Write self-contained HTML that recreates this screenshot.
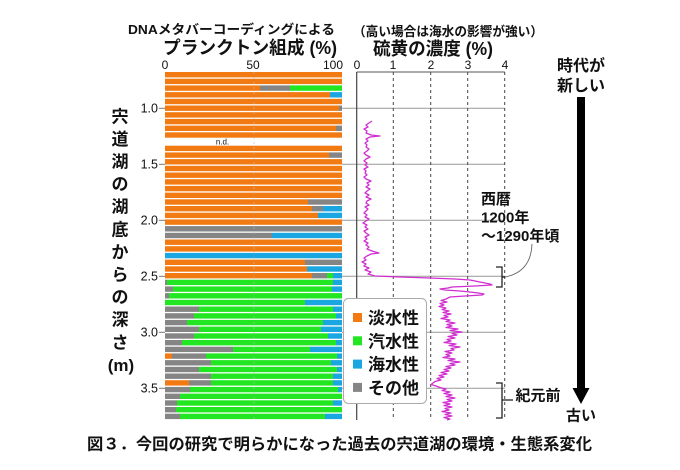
<!DOCTYPE html>
<html><head><meta charset="utf-8">
<style>
html,body{margin:0;padding:0;background:#fff}
svg{display:block}
text{font-family:"Liberation Sans","Noto Sans CJK JP",sans-serif;fill:#111}
</style></head>
<body>
<svg width="680" height="470" viewBox="0 0 680 470" xmlns="http://www.w3.org/2000/svg">
<rect width="680" height="470" fill="#fff"/>

<!-- Titles -->
<text x="128" y="34" font-size="13" font-weight="bold" textLength="207" lengthAdjust="spacingAndGlyphs">DNAメタバーコーディングによる</text>
<text x="163" y="54" font-size="18" font-weight="bold" textLength="174" lengthAdjust="spacingAndGlyphs">プランクトン組成 (%)</text>
<text x="353" y="36" font-size="13" font-weight="bold" textLength="190" lengthAdjust="spacingAndGlyphs">（高い場合は海水の影響が強い）</text>
<text x="373" y="55" font-size="18" font-weight="bold" textLength="120" lengthAdjust="spacingAndGlyphs">硫黄の濃度 (%)</text>

<!-- top axis labels -->
<g font-size="12" text-anchor="middle" fill="#222">
<text x="165" y="69">0</text>
<text x="253" y="69">50</text>
<text x="333" y="69">100</text>
<text x="357" y="69">0</text>
<text x="393" y="69">1</text>
<text x="431" y="69">2</text>
<text x="468" y="69">3</text>
<text x="505" y="69">4</text>
</g>

<!-- depth tick labels -->
<g font-size="12.5" text-anchor="end" fill="#333">
<text x="158" y="112.5">1.0</text>
<text x="158" y="168.5">1.5</text>
<text x="158" y="224.5">2.0</text>
<text x="158" y="280.5">2.5</text>
<text x="158" y="336.5">3.0</text>
<text x="158" y="392.5">3.5</text>
</g>
<g stroke="#777" stroke-width="1">
<line x1="159" y1="108.3" x2="165" y2="108.3"/>
<line x1="159" y1="164.3" x2="165" y2="164.3"/>
<line x1="159" y1="220.3" x2="165" y2="220.3"/>
<line x1="159" y1="276.3" x2="165" y2="276.3"/>
<line x1="159" y1="332.3" x2="165" y2="332.3"/>
<line x1="159" y1="388.3" x2="165" y2="388.3"/>
</g>

<!-- vertical y label -->
<g font-size="17" font-weight="bold" text-anchor="middle">
<text x="120" y="122.3">宍</text>
<text x="120" y="144.9">道</text>
<text x="120" y="167.5">湖</text>
<text x="120" y="190.1">の</text>
<text x="120" y="212.7">湖</text>
<text x="120" y="235.3">底</text>
<text x="120" y="257.9">か</text>
<text x="120" y="280.5">ら</text>
<text x="120" y="303.1">の</text>
<text x="120" y="325.7">深</text>
<text x="120" y="348.3">さ</text>
<text x="121" y="370.9">(m)</text>
</g>

<!-- Bars -->
<g>
<rect x="165" y="72" width="177" height="5.4" fill="#f27a12"/>
<rect x="165" y="78.7" width="177" height="5.4" fill="#f27a12"/>
<rect x="165" y="85.4" width="95" height="5.4" fill="#f27a12"/><rect x="260" y="85.4" width="30" height="5.4" fill="#858585"/><rect x="290" y="85.4" width="52" height="5.4" fill="#22e622"/>
<rect x="165" y="92.1" width="165" height="5.4" fill="#f27a12"/><rect x="330" y="92.1" width="12" height="5.4" fill="#1aa6e0"/>
<rect x="165" y="98.8" width="177" height="5.4" fill="#f27a12"/>
<rect x="165" y="105.5" width="174" height="5.4" fill="#f27a12"/><rect x="339" y="105.5" width="3" height="5.4" fill="#858585"/>
<rect x="165" y="112.2" width="177" height="5.4" fill="#f27a12"/>
<rect x="165" y="118.9" width="177" height="5.4" fill="#f27a12"/>
<rect x="165" y="125.6" width="171" height="5.4" fill="#f27a12"/><rect x="336" y="125.6" width="6" height="5.4" fill="#858585"/>
<rect x="165" y="132.3" width="177" height="5.4" fill="#f27a12"/>
<rect x="165" y="145.7" width="177" height="5.4" fill="#f27a12"/>
<rect x="165" y="152.4" width="164" height="5.4" fill="#f27a12"/><rect x="329" y="152.4" width="13" height="5.4" fill="#858585"/>
<rect x="165" y="159.1" width="177" height="5.4" fill="#f27a12"/>
<rect x="165" y="165.8" width="177" height="5.4" fill="#f27a12"/>
<rect x="165" y="172.5" width="177" height="5.4" fill="#f27a12"/>
<rect x="165" y="179.2" width="177" height="5.4" fill="#f27a12"/>
<rect x="165" y="185.9" width="177" height="5.4" fill="#f27a12"/>
<rect x="165" y="192.6" width="177" height="5.4" fill="#f27a12"/>
<rect x="165" y="199.3" width="143" height="5.4" fill="#f27a12"/><rect x="308" y="199.3" width="34" height="5.4" fill="#858585"/>
<rect x="165" y="206" width="147" height="5.4" fill="#f27a12"/><rect x="312" y="206" width="11" height="5.4" fill="#858585"/><rect x="323" y="206" width="19" height="5.4" fill="#1aa6e0"/>
<rect x="165" y="212.7" width="153" height="5.4" fill="#f27a12"/><rect x="318" y="212.7" width="24" height="5.4" fill="#1aa6e0"/>
<rect x="165" y="219.4" width="177" height="5.4" fill="#f27a12"/>
<rect x="165" y="226.1" width="177" height="5.4" fill="#858585"/>
<rect x="165" y="232.8" width="107" height="5.4" fill="#858585"/><rect x="272" y="232.8" width="70" height="5.4" fill="#1aa6e0"/>
<rect x="165" y="239.5" width="177" height="5.4" fill="#f27a12"/>
<rect x="165" y="246.2" width="177" height="5.4" fill="#f27a12"/>
<rect x="165" y="252.9" width="177" height="5.4" fill="#1aa6e0"/>
<rect x="165" y="259.6" width="140" height="5.4" fill="#f27a12"/><rect x="305" y="259.6" width="37" height="5.4" fill="#858585"/>
<rect x="165" y="266.3" width="142" height="5.4" fill="#f27a12"/><rect x="307" y="266.3" width="35" height="5.4" fill="#1aa6e0"/>
<rect x="165" y="273" width="147" height="5.4" fill="#f27a12"/><rect x="312" y="273" width="15" height="5.4" fill="#858585"/><rect x="327" y="273" width="6" height="5.4" fill="#22e622"/><rect x="333" y="273" width="9" height="5.4" fill="#1aa6e0"/>
<rect x="165" y="279.7" width="2" height="5.4" fill="#858585"/><rect x="167" y="279.7" width="166" height="5.4" fill="#22e622"/><rect x="333" y="279.7" width="9" height="5.4" fill="#1aa6e0"/>
<rect x="165" y="286.4" width="8" height="5.4" fill="#858585"/><rect x="173" y="286.4" width="159" height="5.4" fill="#22e622"/><rect x="332" y="286.4" width="10" height="5.4" fill="#1aa6e0"/>
<rect x="165" y="293.1" width="4" height="5.4" fill="#858585"/><rect x="169" y="293.1" width="173" height="5.4" fill="#22e622"/>
<rect x="165" y="299.8" width="140" height="5.4" fill="#22e622"/><rect x="305" y="299.8" width="37" height="5.4" fill="#1aa6e0"/>
<rect x="165" y="306.5" width="34" height="5.4" fill="#858585"/><rect x="199" y="306.5" width="134" height="5.4" fill="#22e622"/><rect x="333" y="306.5" width="9" height="5.4" fill="#1aa6e0"/>
<rect x="165" y="313.2" width="29" height="5.4" fill="#858585"/><rect x="194" y="313.2" width="142" height="5.4" fill="#22e622"/><rect x="336" y="313.2" width="6" height="5.4" fill="#1aa6e0"/>
<rect x="165" y="319.9" width="22" height="5.4" fill="#858585"/><rect x="187" y="319.9" width="136" height="5.4" fill="#22e622"/><rect x="323" y="319.9" width="19" height="5.4" fill="#1aa6e0"/>
<rect x="165" y="326.6" width="34" height="5.4" fill="#858585"/><rect x="199" y="326.6" width="122" height="5.4" fill="#22e622"/><rect x="321" y="326.6" width="21" height="5.4" fill="#1aa6e0"/>
<rect x="165" y="333.3" width="29" height="5.4" fill="#858585"/><rect x="194" y="333.3" width="134" height="5.4" fill="#22e622"/><rect x="328" y="333.3" width="14" height="5.4" fill="#1aa6e0"/>
<rect x="165" y="340" width="17" height="5.4" fill="#858585"/><rect x="182" y="340" width="154" height="5.4" fill="#22e622"/><rect x="336" y="340" width="6" height="5.4" fill="#1aa6e0"/>
<rect x="165" y="346.7" width="68" height="5.4" fill="#858585"/><rect x="233" y="346.7" width="77" height="5.4" fill="#22e622"/><rect x="310" y="346.7" width="32" height="5.4" fill="#1aa6e0"/>
<rect x="165" y="353.4" width="7" height="5.4" fill="#f27a12"/><rect x="172" y="353.4" width="34" height="5.4" fill="#858585"/><rect x="206" y="353.4" width="131" height="5.4" fill="#22e622"/><rect x="337" y="353.4" width="5" height="5.4" fill="#1aa6e0"/>
<rect x="165" y="360.1" width="46" height="5.4" fill="#858585"/><rect x="211" y="360.1" width="120" height="5.4" fill="#22e622"/><rect x="331" y="360.1" width="11" height="5.4" fill="#1aa6e0"/>
<rect x="165" y="366.8" width="34" height="5.4" fill="#858585"/><rect x="199" y="366.8" width="138" height="5.4" fill="#22e622"/><rect x="337" y="366.8" width="5" height="5.4" fill="#1aa6e0"/>
<rect x="165" y="373.5" width="46" height="5.4" fill="#858585"/><rect x="211" y="373.5" width="122" height="5.4" fill="#22e622"/><rect x="333" y="373.5" width="9" height="5.4" fill="#1aa6e0"/>
<rect x="165" y="380.2" width="24" height="5.4" fill="#f27a12"/><rect x="189" y="380.2" width="22" height="5.4" fill="#858585"/><rect x="211" y="380.2" width="122" height="5.4" fill="#22e622"/><rect x="333" y="380.2" width="9" height="5.4" fill="#1aa6e0"/>
<rect x="165" y="386.9" width="25" height="5.4" fill="#858585"/><rect x="190" y="386.9" width="148" height="5.4" fill="#22e622"/><rect x="338" y="386.9" width="4" height="5.4" fill="#1aa6e0"/>
<rect x="165" y="393.6" width="15" height="5.4" fill="#858585"/><rect x="180" y="393.6" width="162" height="5.4" fill="#22e622"/>
<rect x="165" y="400.3" width="12" height="5.4" fill="#858585"/><rect x="177" y="400.3" width="156" height="5.4" fill="#22e622"/><rect x="333" y="400.3" width="9" height="5.4" fill="#1aa6e0"/>
<rect x="165" y="407" width="11" height="5.4" fill="#858585"/><rect x="176" y="407" width="166" height="5.4" fill="#22e622"/>
<rect x="165" y="413.7" width="15" height="5.4" fill="#858585"/><rect x="180" y="413.7" width="145" height="5.4" fill="#22e622"/><rect x="325" y="413.7" width="17" height="5.4" fill="#1aa6e0"/>
</g>
<line x1="254" y1="72" x2="254" y2="420" stroke="#bbb" stroke-opacity="0.6" stroke-width="1" stroke-dasharray="2,3"/>
<text x="222.5" y="144.5" font-size="8" text-anchor="middle" fill="#333">n.d.</text>

<!-- Sulfur panel -->
<g stroke="#999" stroke-width="1">
<line x1="342" y1="108.3" x2="505" y2="108.3"/>
<line x1="342" y1="164.3" x2="505" y2="164.3"/>
<line x1="342" y1="220.3" x2="505" y2="220.3"/>
<line x1="342" y1="276.3" x2="505" y2="276.3"/>
<line x1="342" y1="332.3" x2="505" y2="332.3"/>
<line x1="342" y1="388.3" x2="505" y2="388.3"/>
</g>
<g stroke="#444" stroke-width="1" stroke-dasharray="3,3">
<line x1="393.3" y1="72" x2="393.3" y2="420"/>
<line x1="430.7" y1="72" x2="430.7" y2="420"/>
<line x1="467.7" y1="72" x2="467.7" y2="420"/>
<line x1="504.7" y1="72" x2="504.7" y2="420"/>
</g>
<line x1="356.7" y1="72" x2="504.7" y2="72" stroke="#555" stroke-width="1"/>
<line x1="356.7" y1="72" x2="356.7" y2="420" stroke="#444" stroke-width="1.2"/>

<polyline fill="none" stroke="#d02ed0" stroke-width="1.3" stroke-linejoin="round" points="
372,121 369,123 366,125 368,127 364,129 367,131 366,133 371,135 380,136 370,137 366,139 368,141 365,143 367,145 366,147 369,149 367,151 364,153 366,155 370,157 366,159 364,161 367,163 365,165 368,167 364,169 366,171 365,173 367,175 364,177 366,179 371,181 367,183 369,185 366,187 370,189 367,191 365,193 369,195 366,197 371,199 367,201 366,203 369,205 365,207 368,209 366,211 364,213 367,215 365,217 369,219 366,221 363,223 367,225 365,227 368,229 364,231 366,233 369,235 365,237 367,239 364,241 368,243 366,245 369,247 367,249 372,251 379,253 371,254 367,256 364,258 366,260 362,262 366,264 364,266 369,268 365,270 371,272 368,274 375,276 400,277 430,278 455,279 470,280 480,282 490,284 492,285 475,286 452,287 448,288 440,289 445,290 460,291 470,292 478,293 484,294 482,295 465,296 450,297 446,299
441,300.5 447,302 440,303.5 444,305 439,306.5 446,308 442,309.5 449,311 443,312.5 451,314 444,315.5 448,317 441,318.5 450,320 446,321.5 455,323 447,324.5 452,326 446,327.5 458,329 450,330.5 462,332 452,333.5 457,335 448,336.5 455,338 447,339.5 451,341 444,342.5 456,344 449,345.5 460,347 451,348.5 454,350 445,351.5 452,353 446,354.5 450,356 443,357.5 455,359 448,360.5 460,362 450,363.5 455,365 446,366.5 451,368 444,369.5 449,371 441,372.5 447,374 439,375.5 444,377 437,378.5 441,380 435,381.5 433,383 431,384.5 436,386 440,387.5 446,389 442,390.5 450,392 444,393.5 452,395 446,396.5 455,398 447,399.5 452,401 443,402.5 450,404 444,405.5 452,407 445,408.5 449,410 442,411.5 451,413 445,414.5 452,416 444,417.5 450,419 447,420"/>

<!-- Legend -->
<rect x="343.5" y="298.5" width="83" height="105" rx="5" ry="5" fill="#fff" stroke="#aaa" stroke-width="1"/>
<rect x="353" y="313" width="9" height="9" fill="#f27a12"/>
<rect x="353" y="336.3" width="9" height="9" fill="#22e622"/>
<rect x="353" y="359.6" width="9" height="9" fill="#1aa6e0"/>
<rect x="353" y="382.9" width="9" height="9" fill="#858585"/>
<g font-size="17" font-weight="bold">
<text x="368" y="324" textLength="51" lengthAdjust="spacingAndGlyphs">淡水性</text>
<text x="368" y="347.3" textLength="51" lengthAdjust="spacingAndGlyphs">汽水性</text>
<text x="368" y="370.6" textLength="51" lengthAdjust="spacingAndGlyphs">海水性</text>
<text x="368" y="393.9" textLength="51" lengthAdjust="spacingAndGlyphs">その他</text>
</g>

<!-- Brackets & annotations -->
<g fill="none" stroke="#222" stroke-width="1.3">
<path d="M496,267 H502 V287 H496"/>
<path d="M502,277 H505"/>
<path d="M496,383 H502 V418 H496"/>
<path d="M502,400 H513"/>
</g>
<path d="M505,277 Q531,272 532,244" fill="none" stroke="#666" stroke-width="0.9"/>
<g font-size="15" font-weight="bold">
<text x="481" y="204">西暦</text>
<text x="481" y="222.5">1200年</text>
<text x="481" y="241">〜1290年頃</text>
<text x="515.5" y="400.5">紀元前</text>
</g>

<!-- Arrow -->
<rect x="577" y="97" width="8" height="292" fill="#000"/>
<polygon points="572.5,388 589.5,388 581,404" fill="#000"/>
<g font-size="16" font-weight="bold" text-anchor="middle">
<text x="581" y="71">時代が</text>
<text x="581" y="91">新しい</text>
</g>
<text x="581" y="420.5" font-size="15" font-weight="bold" text-anchor="middle">古い</text>

<!-- Caption -->
<text x="87" y="449.5" font-size="16" font-weight="bold" textLength="505" lengthAdjust="spacingAndGlyphs">図３．今回の研究で明らかになった過去の宍道湖の環境・生態系変化</text>
</svg>
</body></html>
